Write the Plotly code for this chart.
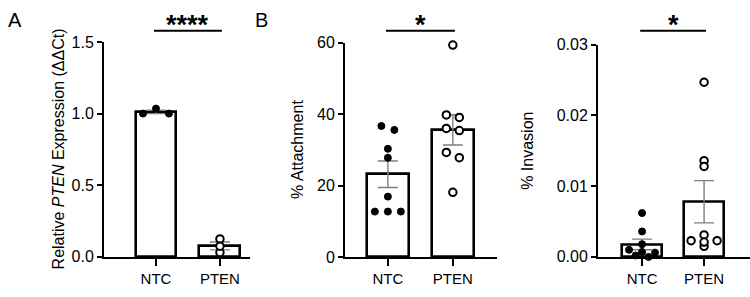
import numpy as np
import plotly.graph_objects as go

# ---------------- data ----------------
categories = ["NTC", "PTEN"]

pten_expr_ntc = [1.00, 1.035, 1.00]
pten_expr_pten = [0.03, 0.125, 0.075]

attach_ntc = [36.7, 35.6, 30.3, 27.8, 16.9, 12.7, 12.7, 12.7]
attach_pten = [59.4, 39.8, 39.1, 36.0, 35.4, 29.3, 27.8, 18.1]

invasion_ntc = [0.0062, 0.0036, 0.0018, 0.0010, 0.0007, 0.0006, 0.0002, 0.0000]
invasion_pten = [0.0247, 0.0136, 0.0128, 0.0031, 0.0015, 0.0023, 0.0021, 0.0023]

y_ticks_a = [0.0, 0.5, 1.0, 1.5]
y_ticks_b = [0, 20, 40, 60]
y_ticks_c = [0.00, 0.01, 0.02, 0.03]

sig_a = "****"
sig_b = "*"
sig_c = "*"

# ---------------- layout geometry (pixels) ----------------
W, H = 750, 297
FONT = "Arial, Liberation Sans, sans-serif"

panels = [
    dict(xpx=(104, 250), ypx=(264, 36), xr=(-0.8125, 1.47), yr=(0, 1.5),
         data=(pten_expr_ntc, pten_expr_pten), ticks=y_ticks_a, fmt=".1f",
         title="Relative <i>PTEN</i> Expression (ΔΔCt)", title_x=58, sig=sig_a,
         label="A", label_x=15),
    dict(xpx=(345, 497), ypx=(264, 37), xr=(-0.66, 1.68), yr=(0, 60),
         data=(attach_ntc, attach_pten), ticks=y_ticks_b, fmt="d",
         title="% Attachment", title_x=298, sig=sig_b, label="B", label_x=261),
    dict(xpx=(598, 750), ypx=(264, 39), xr=(-0.71, 1.74), yr=(0, 0.03),
         data=(invasion_ntc, invasion_pten), ticks=y_ticks_c, fmt=".2f",
         title="% Invasion", title_x=528, sig=sig_c, label=None, label_x=None),
]


def swarm_offsets(values, px_per_unit, thresh=6.0, spacing=13.0):
    """Group points that are close vertically (in pixels) and spread them
    horizontally, centred on the category. Returns offsets in pixels."""
    vals = np.asarray(values, dtype=float)
    order = np.argsort(-vals, kind="stable")
    groups, cur, anchor = [], [], None
    for i in order:
        ypix = vals[i] * px_per_unit
        if anchor is None or abs(anchor - ypix) >= thresh:
            if cur:
                groups.append(cur)
            cur, anchor = [i], ypix
        else:
            cur.append(i)
    if cur:
        groups.append(cur)
    offs = np.zeros(len(vals))
    for g in groups:
        g = sorted(g)
        n = len(g)
        for k, i in enumerate(g):
            offs[i] = (k - (n - 1) / 2.0) * spacing
    return offs


fig = go.Figure()
shapes, annotations = [], []
layout = {}

for p_i, p in enumerate(panels):
    n = "" if p_i == 0 else str(p_i + 1)
    xa, ya = "x" + n, "y" + n
    x0px, x1px = p["xpx"]
    yb, yt = p["ypx"]
    xpx_per_unit = (x1px - x0px) / (p["xr"][1] - p["xr"][0])
    ypx_per_unit = (yb - yt) / (p["yr"][1] - p["yr"][0])

    means, sems = [], []
    for vals in p["data"]:
        v = np.asarray(vals, dtype=float)
        means.append(v.mean())
        sems.append(v.std(ddof=1) / np.sqrt(len(v)))

    fig.add_trace(go.Bar(
        x=[0, 1], y=means, width=0.64, xaxis=xa, yaxis=ya,
        marker=dict(color="white", line=dict(color="black", width=2.6)),
        error_y=dict(type="data", array=sems, visible=True, color="#7f7f7f",
                     thickness=1.4, width=10),
        showlegend=False, hoverinfo="skip",
    ))

    for c_i, vals in enumerate(p["data"]):
        offs = swarm_offsets(vals, ypx_per_unit) / xpx_per_unit
        xs = c_i + offs
        if c_i == 0:
            mk = dict(color="black", size=7, line=dict(color="black", width=1))
        else:
            mk = dict(color="white", size=7.5, line=dict(color="black", width=2))
        fig.add_trace(go.Scatter(
            x=xs, y=vals, mode="markers", marker=mk, xaxis=xa, yaxis=ya,
            showlegend=False, cliponaxis=False, hoverinfo="skip",
        ))

    xdom = [x0px / W, x1px / W]
    ydom = [(H - yb) / H, (H - yt) / H]
    layout["xaxis" + n] = dict(
        domain=xdom, range=list(p["xr"]), anchor=ya,
        tickvals=[0, 1], ticktext=categories, showgrid=False, zeroline=False,
        showline=True, linecolor="black", linewidth=2,
        ticks="outside", ticklen=7, tickwidth=2, tickcolor="black",
        tickfont=dict(family=FONT, size=15, color="black"),
    )
    ticktext = [format(t, p["fmt"]) if p["fmt"] != "d" else str(int(t)) for t in p["ticks"]]
    layout["yaxis" + n] = dict(
        domain=ydom, range=list(p["yr"]), anchor=xa,
        tickvals=p["ticks"], ticktext=ticktext, showgrid=False, zeroline=False,
        showline=True, linecolor="black", linewidth=2,
        ticks="outside", ticklen=5, tickwidth=2, tickcolor="black",
        tickfont=dict(family=FONT, size=16, color="black"),
    )

    annotations.append(dict(
        text=p["title"], xref="paper", yref="paper",
        x=p["title_x"] / W, y=(H - (yb + yt) / 2) / H,
        xanchor="center", yanchor="middle", textangle=-90, showarrow=False,
        font=dict(family=FONT, size=16, color="black"),
    ))

    shapes.append(dict(
        type="line", xref=xa, yref="paper", x0=-0.03, x1=1.03,
        y0=1 - 24 / H, y1=1 - 24 / H, line=dict(color="black", width=2),
    ))
    annotations.append(dict(
        text="<b>" + p["sig"] + "</b>", xref=xa, yref="paper", x=0.5,
        y=1.0, xanchor="center", yanchor="top", showarrow=False,
        font=dict(family=FONT, size=27, color="black"),
    ))

    if p["label"]:
        annotations.append(dict(
            text=p["label"], xref="paper", yref="paper",
            x=p["label_x"] / W, y=1 - 13 / H, xanchor="center", yanchor="middle",
            showarrow=False, font=dict(family=FONT, size=20, color="black"),
        ))

fig.update_layout(
    width=W, height=H, margin=dict(l=0, r=0, t=0, b=0),
    paper_bgcolor="white", plot_bgcolor="white",
    shapes=shapes, annotations=annotations, bargap=0,
    **layout,
)

fig.write_html("out.html")
